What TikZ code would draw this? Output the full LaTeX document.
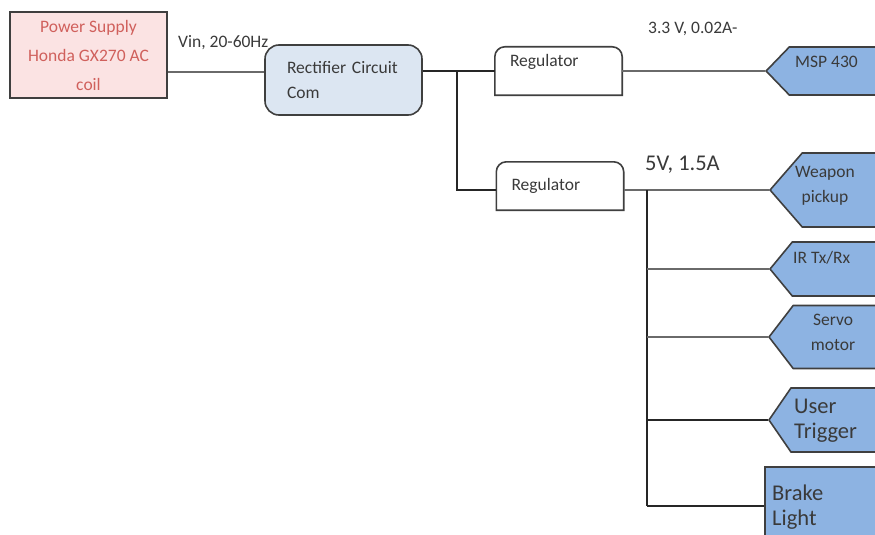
\documentclass[tikz,border=0pt]{standalone}
\usepackage{fontspec}
\setmainfont{Carlito}
\usepackage{xcolor}
\usepackage{tikz}
\usetikzlibrary{positioning,calc,shapes.symbols}
\definecolor{cInk}{HTML}{3A3A3A}
\definecolor{cEdge}{HTML}{3F3F3F}
\definecolor{cWire}{HTML}{6A6A6A}
\definecolor{cRose}{HTML}{FBE3E3}
\definecolor{cRed}{HTML}{D0605C}
\definecolor{cIce}{HTML}{DCE6F2}
\definecolor{cSky}{HTML}{8DB3E2}
\tikzset{
  txt/.style={font=\fontsize{17.5}{25}\selectfont,text=cInk},
  bigtxt/.style={font=\fontsize{22.5}{25}\selectfont,text=cInk},
  psbox/.style={draw=cEdge,fill=cRose,line width=1.6pt,align=center,minimum width=157pt,minimum height=86pt,inner sep=0pt,font=\fontsize{17.5}{29}\selectfont,text=cRed},
  recbox/.style={draw=cEdge,fill=cIce,line width=1.6pt,rounded corners=14pt,txt,align=left,text width=113pt,inner xsep=22pt,minimum height=70pt},
  regbox/.style={txt,align=left,text width=97pt,inner xsep=15pt,minimum height=48pt},
  outbox/.style={draw=cEdge,fill=cSky,line width=1.6pt,signal,signal to=west,signal from=nowhere,signal pointer angle=#1,minimum width=200pt,anchor=west},
  wire/.style={line width=2pt,color=cWire},
  bwire/.style={line width=1.8pt,color=black!85},
  lbl/.style={txt,inner sep=0pt,anchor=base west},
}

\begin{document}
\begin{tikzpicture}[x=1pt,y=-1pt]
        \clip (0,0) rectangle (875,535);
        \fill[white] (0,0) rectangle (875,535);
        % source and rectifier
        \node[psbox] (ps) at (88.5,55) {Power Supply\\Honda GX270 AC\\coil};
        \node[recbox] (rect) at (343.5,80) {Rectifier Circuit\\Com};
        % regulators, outline rounded on top only
        \node[regbox,text depth=22pt] (regA) at (558.5,71) {Regulator};
        \node[regbox] (regB) at (560,186) {Regulator};
        \foreach \r in {regA,regB}
          \draw[line width=1.6pt,cEdge] (\r.south west) -- ([yshift=-10pt]\r.north west) arc[start angle=180,end angle=90,radius=10pt] -- ([xshift=-10pt]\r.north east) arc[start angle=90,end angle=0,radius=10pt] -- (\r.south east) -- cycle;
        % loads
        \node[outbox=92,minimum height=48pt] (msp) at (765,71) {};
        \node[outbox=98,minimum height=74pt] (weapon) at (769,190) {};
        \node[outbox=101,minimum height=54pt] (ir) at (769,269) {};
        \node[outbox=105,minimum height=63pt] (servo) at (768,337) {};
        \node[outbox=111,minimum height=64pt] (trig) at (768,420) {};
        \node[draw=cEdge,fill=cSky,line width=1.6pt,minimum width=200pt,minimum height=78pt,anchor=west] (brake) at (764,506) {};
        % wiring
        \coordinate (jA) at (457,71);
        \coordinate (jB) at (647,190);
        \draw[wire] ([yshift=-17pt]ps.east) -- ([yshift=-17pt]ps.east -| rect.west);
        \draw[bwire] (rect.east |- regA.west) -- (regA.west);
        \draw[bwire] (jA) |- ([yshift=-4pt]regB.west);
        \draw[wire] (regA.east) -- (msp.west);
        \draw[wire] ([yshift=-4pt]regB.east) -- (weapon.west);
        \draw[bwire] (jB) -- (jB |- brake.west);
        \foreach \t in {ir,servo}
          \draw[wire] (jB |- \t.west) -- (\t.west);
        \foreach \t in {trig,brake}
          \draw[bwire] (jB |- \t.west) -- (\t.west);
        % labels
        \node[lbl] (vin) at (178,48) {Vin, 20-60Hz};
        \node[lbl] (v33) at (648,34) {3.3 V, 0.02A-};
        \node[lbl,bigtxt] (v5) at (645,170) {5V, 1.5A};
        \node[lbl] (mspT) at (795,67) {MSP 430};
        \node[lbl,align=center,anchor=base] (weaponT) at (825,202) {Weapon\\pickup};
        \node[lbl] (irT) at (793,263) {IR Tx/Rx};
        \node[lbl,align=center,anchor=base] (servoT) at (833,350) {Servo\\motor};
        \node[lbl,bigtxt,align=left] (trigT) at (794,438) {User\\Trigger};
        \node[lbl,bigtxt,align=left] (brakeT) at (772,525) {Brake\\Light};
      \end{tikzpicture}
\end{document}
